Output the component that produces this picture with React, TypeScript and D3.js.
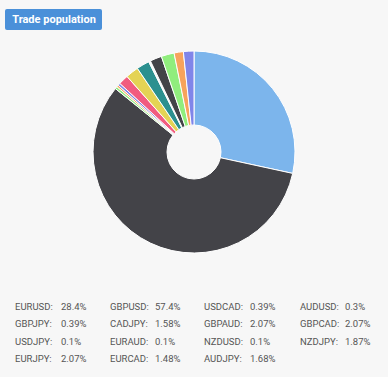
import React from "react";
import * as d3 from "d3";

const categories = [
  "EURUSD", "GBPUSD", "USDCAD", "AUDUSD",
  "GBPJPY", "CADJPY", "GBPAUD", "GBPCAD",
  "USDJPY", "EURAUD", "NZDUSD", "NZDJPY",
  "EURJPY", "EURCAD", "AUDJPY",
];
const values = [
  28.4, 57.4, 0.39, 0.3,
  0.39, 1.58, 2.07, 2.07,
  0.1, 0.1, 0.1, 1.87,
  2.07, 1.48, 1.68,
];
const palette = ["#7cb5ec", "#434348", "#90ed7d", "#f7a35c", "#8085e9", "#f15c80", "#e4d354", "#2b908f", "#f45b5b", "#91e8e1"];

const W = 388, H = 377;
const cx = 194, cy = 152, R = 101, r0 = 27;

const colLabelX = [15, 110, 204, 300];
const colValueX = [61, 155, 250, 345];
const rowY = [310, 327, 345, 362];

export default function App() {
  const data = categories.map((c, i) => ({ name: c, value: values[i] }));
  const pie = d3.pie<any>().sort(null).value((d: any) => d.value).startAngle(0).endAngle(2 * Math.PI);
  const arcs = pie(data);
  const arc = d3.arc<any>().innerRadius(r0).outerRadius(R);
  const color = d3.scaleOrdinal<string, string>().domain(categories).range(palette);
  const fmt = (v: number) => `${v}%`;
  return (
    <div style={{ position: "fixed", left: 0, top: 0, width: W, height: H }}>
      <svg width={W} height={H} style={{ display: "block", fontFamily: "Roboto, 'DejaVu Sans', sans-serif" }}>
        <rect width={W} height={H} fill="#f7f7f7" />
        <rect x={5} y={9} width={97} height={21} rx={2} fill="#4a90d9" />
        <text x={54} y={23.3} textAnchor="middle" fill="#ffffff" fontSize={11} fontWeight={700}>Trade population</text>
        <g transform={`translate(${cx},${cy})`}>
          {arcs.map((a, i) => (
            <path key={i} d={arc(a) as string} fill={color(a.data.name)} stroke="#ffffff" strokeWidth={1} strokeLinejoin="round" />
          ))}
        </g>
        <g fontSize={9.5} fill="#555555">
          {data.map((d, i) => {
            const col = i % 4, row = Math.floor(i / 4);
            return (
              <g key={d.name}>
                <text x={colLabelX[col]} y={rowY[row]}>{d.name}:</text>
                <text x={colValueX[col]} y={rowY[row]}>{fmt(d.value)}</text>
              </g>
            );
          })}
        </g>
      </svg>
    </div>
  );
}
